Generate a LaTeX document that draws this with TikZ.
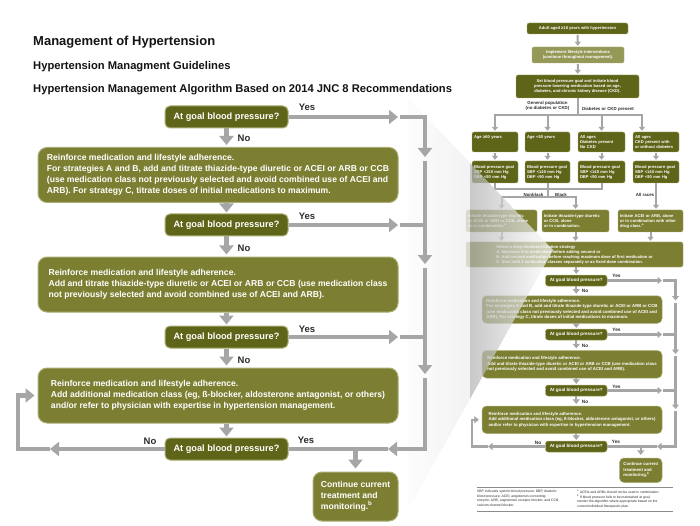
\documentclass[tikz,border=0pt]{standalone}
\usepackage{fontspec}
\setmainfont{Liberation Sans}
\usepackage{tikz}
\usetikzlibrary{arrows.meta, positioning, calc}
\definecolor{olivedark}{RGB}{94,101,24}
\definecolor{olivemid}{RGB}{124,127,50}
\definecolor{olivelight}{RGB}{148,153,88}
\definecolor{oliveedge}{RGB}{170,174,116}
\definecolor{arrowgray}{RGB}{166,166,166}
\definecolor{labelgray}{RGB}{45,45,45}
\definecolor{titleblack}{RGB}{20,20,20}
\definecolor{rulegray}{RGB}{140,140,140}
\tikzset{
  titletext/.style={anchor=base west, inner sep=0pt, text=titleblack,
    font=\fontsize{11.2}{13}\selectfont\bfseries},
  decbox/.style={rectangle, draw=oliveedge, fill=olivedark, text=white,
    minimum width=123pt, minimum height=22pt, rounded corners=5pt,
    font=\fontsize{9.2}{11}\selectfont\bfseries, line width=1pt, inner sep=2pt},
  actbox/.style={rectangle, draw=oliveedge, fill=olivemid, text=white,
    align=left, minimum width=360pt, minimum height=55pt,
    rounded corners=9pt, font=\fontsize{8.6}{11}\selectfont\bfseries, line width=1pt},
  contbox/.style={actbox, minimum width=85pt, minimum height=49pt},
  lbl/.style={text=labelgray, font=\fontsize{9.5}{11}\selectfont\bfseries, inner sep=0pt},
  garrow/.style={draw=arrowgray, line width=4.5pt, -{Triangle[width=14pt,length=9pt]}},
  gline/.style={draw=arrowgray, line width=4.5pt},
  tbox/.style={rectangle, draw=oliveedge, fill=olivedark, text=white, align=left,
    rounded corners=2pt, line width=0.4pt, inner sep=2pt,
    font=\fontsize{4.1}{5}\selectfont\bfseries},
  tlbl/.style={text=labelgray, font=\fontsize{4.4}{5.2}\selectfont\bfseries,
    inner sep=0pt, align=center},
  tarrow/.style={draw=arrowgray, line width=2pt, -{Triangle[width=6pt,length=4pt]}, shorten >=1pt},
  tline/.style={draw=arrowgray, line width=2pt},
  note/.style={text=labelgray, font=\fontsize{3.4}{4.6}\selectfont, align=left,
    anchor=north west, inner sep=0pt}
}
% the lower part of the algorithm, drawn full size and again in the thumbnail
\newcommand{\bpflow}[1]{%
  \node[decbox] (#1-goal1) at (226.5,117) {At goal blood pressure?};
  \node[actbox] (#1-step1) at (218,175) {Reinforce medication and lifestyle adherence.\\
    For strategies A and B, add and titrate thiazide-type diuretic or ACEI or ARB or CCB\\
    (use medication class not previously selected and avoid combined use of ACEI and\\
    ARB). For strategy C, titrate doses of initial medications to maximum.};
  \node[decbox] (#1-goal2) at (226.5,225) {At goal blood pressure?};
  \node[actbox] (#1-step2) at (218,284.5) {Reinforce medication and lifestyle adherence.\\
    Add and titrate thiazide-type diuretic or ACEI or ARB or CCB (use medication class\\
    not previously selected and avoid combined use of ACEI and ARB).};
  \node[decbox] (#1-goal3) at (226.5,337) {At goal blood pressure?};
  \node[actbox] (#1-step3) at (218,395.5) {Reinforce medication and lifestyle adherence.\\
    Add additional medication class (eg, ß-blocker, aldosterone antagonist, or others)\\
    and/or refer to physician with expertise in hypertension management.};
  \node[decbox] (#1-goal4) at (226.5,449) {At goal blood pressure?};
  \node[contbox] (#1-cont) at (355.5,496.5) {Continue current\\treatment and\\monitoring.\textsuperscript{b}};
  % yes side
  \coordinate (#1-yes1) at (398,117);
  \coordinate (#1-yes2) at (398,225);
  \coordinate (#1-yes3) at (398,337);
  \coordinate (#1-bar1) at (425,157);
  \coordinate (#1-bar2) at (425,264);
  \coordinate (#1-bar3) at (425,374);
  \coordinate (#1-back) at (388,449);
  \draw[garrow] (#1-goal1.east) -- (#1-yes1);
  \draw[garrow] (#1-goal2.east) -- (#1-yes2);
  \draw[garrow] (#1-goal3.east) -- (#1-yes3);
  \draw[garrow] ($(#1-yes1)+(2,0)$) -| (#1-bar1);
  \draw[gline] ($(#1-yes2)+(2,0)$) -- (#1-yes2 -| #1-bar1);
  \draw[gline] ($(#1-yes3)+(2,0)$) -- (#1-yes3 -| #1-bar1);
  \draw[garrow] ($(#1-bar1)+(0,4)$) -- (#1-bar2);
  \draw[garrow] ($(#1-bar2)+(0,4)$) -- (#1-bar3);
  \draw[gline] (#1-goal4.east) -- (#1-back);
  \draw[garrow] ($(#1-bar3)+(0,4)$) |- (#1-back);
  \draw[garrow, shorten >=3pt] (#1-cont.north |- #1-goal4) -- (#1-cont.north);
  % no side
  \coordinate (#1-nofour) at (50,449);
  \coordinate (#1-loop) at (18,449);
  \draw[garrow, shorten >=2pt] (#1-goal1.south) -- (#1-goal1.south |- #1-step1.north);
  \draw[garrow, shorten >=1pt] (#1-goal2.north |- #1-step1.south) -- (#1-goal2.north);
  \draw[garrow, shorten >=2pt] (#1-goal2.south) -- (#1-goal2.south |- #1-step2.north);
  \draw[garrow, shorten >=1pt] (#1-goal3.north |- #1-step2.south) -- (#1-goal3.north);
  \draw[garrow, shorten >=2pt] (#1-goal3.south) -- (#1-goal3.south |- #1-step3.north);
  \draw[garrow, shorten >=1pt] (#1-goal4.north |- #1-step3.south) -- (#1-goal4.north);
  \draw[garrow] (#1-goal4.west) -- (#1-nofour);
  \draw[garrow, shorten >=3pt] (#1-nofour) -- (#1-loop) |- (#1-step3.west);
  % yes / no labels
  \node[lbl] (#1-yeslbl1) at (307,107) {Yes};
  \node[lbl] (#1-nolbl1) at (244,138.5) {No};
  \node[lbl] (#1-yeslbl2) at (307,216.5) {Yes};
  \node[lbl] (#1-nolbl2) at (244,248.5) {No};
  \node[lbl] (#1-yeslbl3) at (307,329) {Yes};
  \node[lbl] (#1-nolbl3) at (244,360) {No};
  \node[lbl] (#1-nolbl4) at (150,441) {No};
  \node[lbl] (#1-yeslbl4) at (306,440) {Yes};
}

\begin{document}
\begin{tikzpicture}[x=1pt, y=-1pt]
  \useasboundingbox[fill=white] (0,0) rectangle (700,526);

  \node[titletext, font=\fontsize{13}{15}\selectfont\bfseries] (title) at (33,46) {Management of Hypertension};
  \node[titletext] (subtitle) at (33,69.7) {Hypertension Managment Guidelines};
  \node[titletext] (algtitle) at (33,93) {Hypertension Management Algorithm Based on 2014 JNC 8 Recommendations};

  % thumbnail of the whole algorithm
  \node[tbox, align=center, minimum width=101pt, minimum height=11pt] (t-adult) at (577.5,28.5) {Adult aged ≥18 years with hypertension};
  \node[tbox, align=center, fill=olivelight, minimum width=92pt, minimum height=16pt] (t-life) at (578,55) {Implement lifestyle interventions\\(continue throughout management).};
  \node[tbox, align=center, minimum width=123pt, minimum height=23pt] (t-start) at (577.5,86.5) {Set blood pressure goal and initiate blood\\pressure lowering-medication based on age,\\diabetes, and chronic kidney disease (CKD).};
  \draw[tarrow, shorten <=1pt] (t-adult) -- (t-life);
  \draw[tarrow, shorten <=1pt] (t-life) -- (t-start);

  \node[tbox, text width=42pt, minimum height=20pt] (t-old) at (495,142) {Age ≥60 years\\~\\~};
  \node[tbox, text width=41pt, minimum height=20pt] (t-young) at (547.5,142) {Age <60 years\\~\\~};
  \node[tbox, text width=43pt, minimum height=20pt] (t-diab) at (601.5,142) {All ages\\Diabetes present\\No CKD};
  \node[tbox, text width=42pt, minimum height=20pt] (t-ckd) at (656,142) {All ages\\CKD present with\\or without diabetes};
  \node[tbox, text width=42pt, minimum height=22pt] (t-bp1) at (495,172) {Blood pressure goal\\SBP <150 mm Hg\\DBP <90 mm Hg};
  \node[tbox, text width=41pt, minimum height=22pt] (t-bp2) at (547.5,172) {Blood pressure goal\\SBP <140 mm Hg\\DBP <90 mm Hg};
  \node[tbox, text width=43pt, minimum height=22pt] (t-bp3) at (601.5,172) {Blood pressure goal\\SBP <140 mm Hg\\DBP <90 mm Hg};
  \node[tbox, text width=42pt, minimum height=22pt] (t-bp4) at (656,172) {Blood pressure goal\\SBP <140 mm Hg\\DBP <90 mm Hg};
  \node[tbox, fill=olivemid, text width=67pt, minimum height=22pt] (t-init1) at (501.5,221) {Initiate thiazide-type diuretic\\or ACEI or ARB or CCB, alone\\or in combination.\textsuperscript{a}};
  \node[tbox, fill=olivemid, text width=63pt, minimum height=22pt] (t-init2) at (575.5,221) {Initiate thiazide-type diuretic\\or CCB, alone\\or in combination.};
  \node[tbox, fill=olivemid, text width=61pt, minimum height=22pt] (t-init3) at (650.5,221) {Initiate ACEI or ARB, alone\\or in combination with other\\drug class.\textsuperscript{a}};
  \node[tbox, fill=olivemid, minimum width=217pt, minimum height=25pt] (t-select) at (574.5,254.5) {Select a drug treatment titration strategy\\A. Maximize first medication before adding second or\\B. Add second medication before reaching maximum dose of first medication or\\C. Start with 2 medication classes separately or as fixed-dose combination.};

  \coordinate (t-fork) at (577.5,115);
  \draw[tline] (t-start) -- (t-fork);
  \draw[tarrow] (t-fork) -| (t-old.north);
  \draw[tarrow] (t-fork) -| (t-young.north);
  \draw[tarrow] (t-fork) -| (t-diab.north);
  \draw[tarrow] (t-fork) -| ([xshift=-14pt]t-ckd.north);
  \draw[tarrow, shorten <=1pt] (t-old) -- (t-bp1);
  \draw[tarrow, shorten <=1pt] (t-young) -- (t-bp2);
  \draw[tarrow, shorten <=1pt] (t-diab) -- (t-bp3);
  \draw[tarrow, shorten <=1pt] (t-ckd) -- (t-bp4);
  \coordinate (t-join) at (547.5,189);
  \coordinate (t-split) at (547.5,197);
  \draw[tline] (t-bp1.south) |- (t-join) -| (t-bp3.south);
  \draw[tline] (t-bp2.south) -- (t-split);
  \draw[tarrow] (t-split) -| (t-init1.north);
  \draw[tarrow] (t-split) -| (t-init2.north);
  \draw[tarrow] (t-bp4.south) -- (t-bp4.south |- t-init3.north);
  \draw[tarrow] (t-init1.south) -- (t-init1.south |- t-select.north);
  \draw[tarrow] (t-init2.south) -- (t-init2.south |- t-select.north);
  \draw[tarrow] (t-init3.south) -- (t-init3.south |- t-select.north);

  \node[tlbl] (t-genpop) at (547.5,106) {General population\\(no diabetes or CKD)};
  \node[tlbl] (t-dmckd) at (608,109) {Diabetes or CKD present};
  \node[tlbl] (t-nonblack) at (533.5,194.5) {Nonblack};
  \node[tlbl] (t-black) at (561,194.5) {Black};
  \node[tlbl] (t-allraces) at (645,195) {All races};

  \begin{scope}[shift={(463,222)}, scale=0.5, every node/.append style={transform shape},
      garrow/.style={draw=arrowgray, line width=2.2pt, -{Triangle[width=7pt,length=4.5pt]}},
      gline/.style={draw=arrowgray, line width=2.2pt},
      decbox/.append style={rounded corners=2.5pt, line width=0.5pt},
      actbox/.append style={rounded corners=4.5pt, line width=0.5pt}]
    \bpflow{t}
  \end{scope}
  \draw[tarrow] (t-select.south -| t-goal1.north) -- (t-goal1.north);

  % footnotes of the thumbnail
  \draw[rulegray, line width=1pt] (477,487) -- (673,487);
  \draw[rulegray, line width=1pt] (477,511) -- (673,511);
  \node[note] (t-abbrev) at (477,490) {SBP indicates systolic blood pressure; DBP, diastolic\\blood pressure; ACEI, angiotensin-converting\\enzyme; ARB, angiotensin receptor blocker; and CCB,\\calcium channel blocker.};
  \node[note] (t-notes) at (577,490) {\textsuperscript{a} ACEIs and ARBs should not be used in combination.\\\textsuperscript{b} If blood pressure fails to be maintained at goal,\\reenter the algorithm where appropriate based on the\\current individual therapeutic plan.};

  % zoom wedge
  \shade[left color=gray!2, right color=gray!12, fill opacity=0.8] (408,98) -- (470,163) -- (470,399) -- (410,506) -- (408,506) -- cycle;
  \shade[left color=gray!60, right color=white, fill opacity=0.7] (470,163) -- (553,250) -- (470,399) -- cycle;

  % full size lower part
  \bpflow{m}
\end{tikzpicture}
\end{document}
